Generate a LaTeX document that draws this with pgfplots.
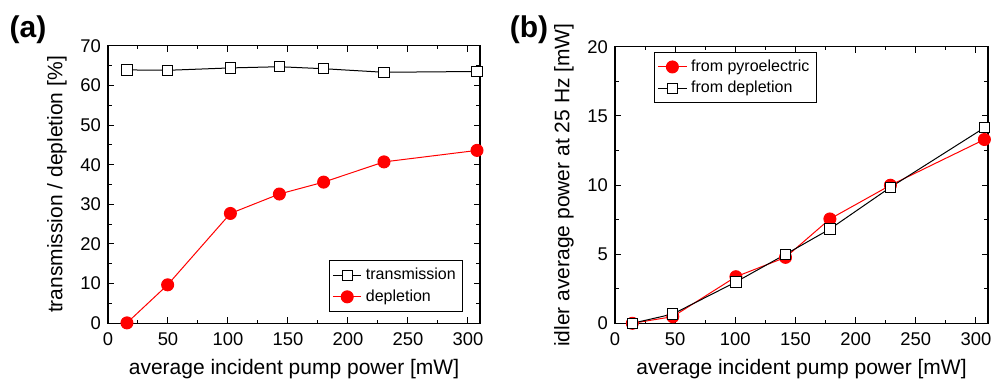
\documentclass[border=0pt]{standalone}
\usepackage{pgfplots}
\pgfplotsset{compat=1.18}
\usepackage{fontspec}
\setmainfont{Liberation Sans}
\begin{document}
\begin{tikzpicture}[x=1pt,y=1pt]
\path[use as bounding box] (0,0) rectangle (495.5,189.5);
\pgfplotsset{
  every axis/.append style={
    scale only axis,
    anchor=south west,
    xmin=0, xmax=310,
    xtick={0,50,...,300},
    minor x tick num=1,
    tick align=inside,
    major tick length=3pt,
    minor tick length=1.8pt,
    axis line style={line width=0.6pt},
    every tick/.style={black, line width=0.5pt},
    /pgf/number format/assume math mode=true,
    tick label style={font=\fontsize{9.2}{11}\selectfont},
    xticklabel style={yshift=-1pt},
    label style={font=\fontsize{10.5}{12}\selectfont},
    legend style={font=\fontsize{8}{9.5}\selectfont, draw=black, line width=0.5pt, fill=white, row sep=-0.5pt, inner sep=1.5pt},
    legend cell align=left,
    legend image code/.code={\draw[mark repeat=2,mark phase=2] plot coordinates {(0cm,0cm) (0.25cm,0cm) (0.5cm,0cm)};},
    xlabel={average incident pump power [mW]},
  },
}
\begin{axis}[
  at={(54pt,27.85pt)}, width=186pt, height=138.8pt,
  ymin=0, ymax=70, ytick={0,10,...,70}, minor y tick num=1,
  ylabel={transmission / depletion [\%]},
  legend style={at={(0.955,0.042)}, anchor=south east},
]
\addplot[black, line width=0.5pt, mark=square*, mark options={fill=white, draw=black, line width=0.5pt}, mark size=2.6pt]
coordinates {(15.8,63.9) (49.7,63.8) (102,64.4) (142.8,64.7) (179.7,64.2) (230,63.3) (307.5,63.5)};
\addlegendentry{transmission}
\addplot[red, line width=0.5pt, mark=*, mark options={fill=red, draw=red}, mark size=3pt]
coordinates {(15.8,0.1) (49.7,9.7) (102,27.7) (142.8,32.6) (179.7,35.6) (230,40.7) (307.5,43.6)};
\addlegendentry{depletion}
\end{axis}
\begin{axis}[
  at={(307.5pt,27.85pt)}, width=186.5pt, height=138.2pt,
  ymin=0, ymax=20, ytick={0,5,...,20}, minor y tick num=1,
  ylabel={idler average power at 25 Hz [mW]},
  legend style={at={(0.105,0.981)}, anchor=north west},
]
\addplot[red, line width=0.5pt, mark=*, mark options={fill=red, draw=red}, mark size=3pt]
coordinates {(14.4,0.0) (48,0.48) (100.5,3.37) (141.7,4.77) (178.6,7.55) (228.9,9.99) (307,13.3)};
\addlegendentry{from pyroelectric}
\addplot[black, line width=0.5pt, mark=square*, mark options={fill=white, draw=black, line width=0.5pt}, mark size=2.6pt]
coordinates {(14.4,0.0) (48,0.67) (100.5,2.99) (141.7,4.99) (178.6,6.82) (228.9,9.84) (307,14.15)};
\addlegendentry{from depletion}
\end{axis}
\node[font=\bfseries\fontsize{15}{17}\selectfont] at (14,174.5) {(a)};
\node[font=\bfseries\fontsize{15}{17}\selectfont] at (264.5,174.5) {(b)};
\end{tikzpicture}
\end{document}
